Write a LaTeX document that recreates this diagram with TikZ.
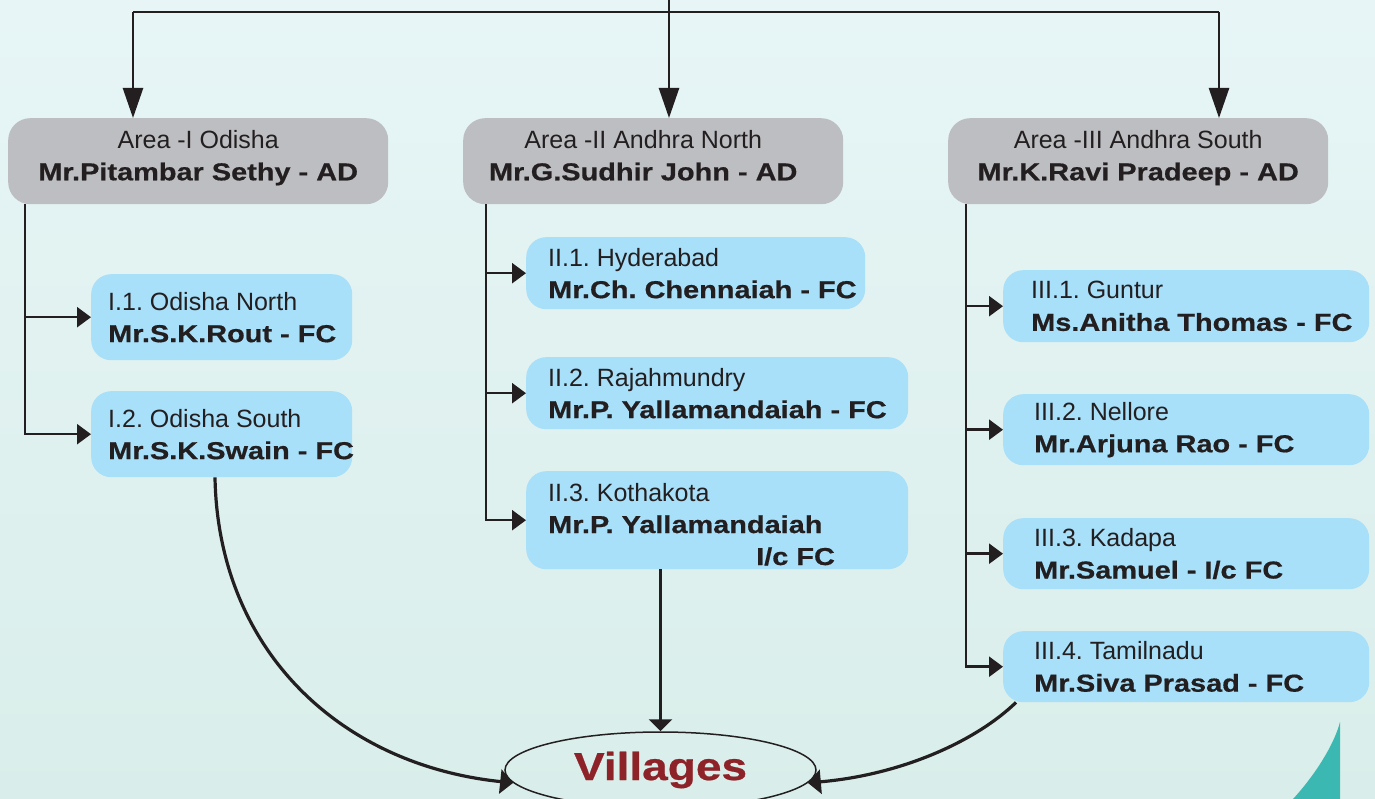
\documentclass[tikz,border=0pt]{standalone}
\usepackage{fontspec}
\setmainfont{Liberation Sans}
\newfontfamily\widesans{Liberation Sans}[FakeStretch=1.18, BoldFeatures={FakeBold=0.6}]
\usetikzlibrary{arrows.meta,positioning,shapes.geometric}
\frenchspacing

\definecolor{bgtop}{RGB}{231,245,246}
\definecolor{bgbot}{RGB}{217,238,234}
\definecolor{areagray}{RGB}{189,190,193}
\definecolor{fcblue}{RGB}{168,223,249}
\definecolor{ink}{RGB}{35,31,32}
\definecolor{villred}{RGB}{142,34,41}
\definecolor{cornerteal}{RGB}{59,184,178}

\newcommand{\who}[1]{{\widesans\bfseries\fontsize{24.5}{32}\selectfont #1}}

\begin{document}
\begin{tikzpicture}[x=1pt,y=-1pt,
  area/.style={fill=areagray, rounded corners=22pt, minimum width=380pt,
    minimum height=86pt, inner sep=0pt, anchor=north west},
  fcbox/.style={fill=fcblue, rounded corners=20pt, inner sep=0pt, anchor=north west},
  txt/.style={inner sep=0pt, text=ink, font=\frenchspacing\fontsize{25}{32}\selectfont},
  link/.style={draw=ink, line width=2.5pt},
  toparrow/.style={link, -{Triangle[length=30pt,width=20pt]}},
  sidearrow/.style={link, -{Triangle[length=14pt,width=20pt]}},
  villarrow/.style={draw=ink, line width=3.2pt, -{Triangle[length=13pt,width=24pt]}}]

\useasboundingbox (0,0) rectangle (1375,799);
\fill[top color=bgtop, bottom color=bgbot] (0,0) rectangle (1375,799);
\fill[cornerteal] (1340,722) .. controls (1334,745) and (1315,775) .. (1293,799)
  -- (1340,799) -- cycle;

% area heads
\node[area] (a1) at (8,118) {};
\node[area] (a2) at (463,118) {};
\node[area] (a3) at (948,118) {};
\node[txt, align=center, below=12pt of a1.north] (a1t)
  {Area -I Odisha\\\who{Mr.Pitambar Sethy - AD}};
\node[txt, align=center, below=12pt of a2.north, xshift=-10pt] (a2t)
  {Area -II Andhra North\\\who{Mr.G.Sudhir John - AD}};
\node[txt, align=center, below=12pt of a3.north] (a3t)
  {Area -III Andhra South\\\who{Mr.K.Ravi Pradeep - AD}};

% field centres
\node[fcbox, minimum width=261pt, minimum height=86pt] (fc11) at (91,274) {};
\node[fcbox, minimum width=261pt, minimum height=86pt] (fc12) at (91,391) {};
\node[fcbox, minimum width=339pt, minimum height=72pt] (fc21) at (526,237) {};
\node[fcbox, minimum width=382pt, minimum height=72pt] (fc22) at (526,357) {};
\node[fcbox, minimum width=382pt, minimum height=98pt] (fc23) at (526,471) {};
\node[fcbox, minimum width=366pt, minimum height=72pt] (fc31) at (1003,270) {};
\node[fcbox, minimum width=366pt, minimum height=71pt] (fc32) at (1003,394) {};
\node[fcbox, minimum width=366pt, minimum height=71pt] (fc33) at (1003,518) {};
\node[fcbox, minimum width=366pt, minimum height=71pt] (fc34) at (1003,631) {};

\node[txt, align=left, right=17pt of fc11.west] (fc11t)
  {I.1. Odisha North\\\who{Mr.S.K.Rout - FC}};
\node[txt, align=left, right=17pt of fc12.west] (fc12t)
  {I.2. Odisha South\\\who{Mr.S.K.Swain - FC}};
\node[txt, align=left, right=22pt of fc21.west] (fc21t)
  {II.1. Hyderabad\\\who{Mr.Ch. Chennaiah - FC}};
\node[txt, align=left, right=22pt of fc22.west] (fc22t)
  {II.2. Rajahmundry\\\who{Mr.P. Yallamandaiah - FC}};
\node[txt, align=left, right=22pt of fc23.west, yshift=-4pt] (fc23t)
  {II.3. Kothakota\\\who{Mr.P. Yallamandaiah}\\\hspace*{208pt}\who{I/c FC}};
\node[txt, align=left, right=28pt of fc31.west] (fc31t)
  {III.1. Guntur\\\who{Ms.Anitha Thomas - FC}};
\node[txt, align=left, right=31pt of fc32.west] (fc32t)
  {III.2. Nellore\\\who{Mr.Arjuna Rao - FC}};
\node[txt, align=left, right=31pt of fc33.west] (fc33t)
  {III.3. Kadapa\\\who{Mr.Samuel - I/c FC}};
\node[txt, align=left, right=31pt of fc34.west] (fc34t)
  {III.4. Tamilnadu\\\who{Mr.Siva Prasad - FC}};

\node[ellipse, draw=ink, line width=1.5pt, minimum width=311pt, minimum height=76pt,
  inner sep=0pt, text=villred, font=\widesans\bfseries\fontsize{39}{40}\selectfont]
  (vill) at (660.5,770) {Villages};

% top distribution line
\coordinate (src) at (669,0);
\coordinate (lt) at (133,12);
\coordinate (rt) at (1219,12);
\draw[link] (lt) -- (rt);
\draw[toparrow] (src) -- (src |- a2.north);
\draw[toparrow] (lt) -- (lt |- a1.north);
\draw[toparrow] (rt) -- (rt |- a3.north);

% branches
\draw[sidearrow] ([xshift=17pt]a1.south west) |- (fc11.west);
\draw[sidearrow] ([xshift=17pt]a1.south west) |- (fc12.west);
\draw[sidearrow] ([xshift=23pt]a2.south west) |- (fc21.west);
\draw[sidearrow] ([xshift=23pt]a2.south west) |- (fc22.west);
\draw[sidearrow] ([xshift=23pt]a2.south west) |- (fc23.west);
\draw[sidearrow] ([xshift=18pt]a3.south west) |- (fc31.west);
\draw[sidearrow] ([xshift=18pt]a3.south west) |- (fc32.west);
\draw[sidearrow] ([xshift=18pt]a3.south west) |- (fc33.west);
\draw[sidearrow] ([xshift=18pt]a3.south west) |- (fc34.west);

% to the villages
\draw[villarrow] ([xshift=124pt]fc12.south west) .. controls (218,650) and (340,765) .. (vill.185);
\draw[link, -{Triangle[length=12pt,width=23pt]}] (vill.north |- fc23.south) -- (vill.north);
\draw[villarrow] ([xshift=13pt]fc34.south west) .. controls (975,742) and (900,775) .. (vill.355);

\end{tikzpicture}
\end{document}
